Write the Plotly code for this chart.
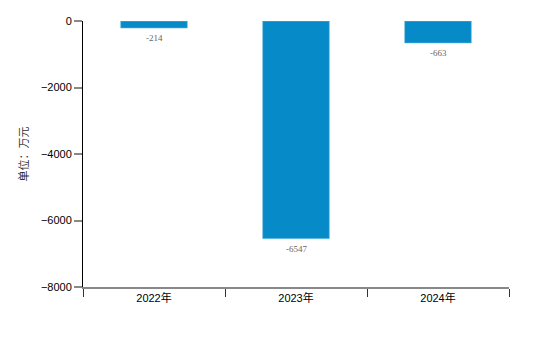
import plotly.graph_objects as go

years = ["2022年", "2023年", "2024年"]
values = [-214, -6547, -663]
y_ticks = [0, -2000, -4000, -6000, -8000]

fig = go.Figure(
    go.Bar(
        x=years,
        y=values,
        width=0.47,
        marker=dict(color="#068bc8", line=dict(color="#7cc4e6", width=0.6)),
        hoverinfo="skip",
    )
)

# value labels just below the end of each bar
for year, v in zip(years, values):
    fig.add_annotation(
        x=year, y=v,
        text=str(v),
        showarrow=False,
        yanchor="top",
        yshift=-3,
        font=dict(size=9, color="#666666", family="Liberation Serif, Noto Sans CJK SC"),
    )

fig.add_annotation(
    text="单位：万元",
    xref="paper", yref="paper",
    x=-0.142, y=0.5,
    xanchor="center", yanchor="middle",
    textangle=-90,
    showarrow=False,
    font=dict(size=11, color="#333333", family="Noto Sans CJK SC"),
)

fig.update_layout(
    width=560,
    height=346,
    margin=dict(l=83, r=51, t=21, b=59),
    paper_bgcolor="white",
    plot_bgcolor="white",
    showlegend=False,
    font=dict(family="Liberation Sans, Noto Sans CJK SC", size=11, color="#000000"),
)

fig.update_yaxes(
    range=[-8000, 0],
    tickvals=y_ticks,
    ticks="outside",
    ticklen=8,
    tickcolor="#888888",
    tickwidth=2,
    showline=True,
    linecolor="#000000",
    linewidth=1,
    showgrid=False,
    zeroline=False,
    tickfont=dict(size=11, color="#000000"),
)

fig.update_xaxes(
    type="category",
    tickson="boundaries",
    ticks="outside",
    ticklen=8,
    tickcolor="#333333",
    tickwidth=1,
    showline=True,
    linecolor="#888888",
    linewidth=2,
    showgrid=False,
    tickfont=dict(size=11, color="#000000"),
)

fig.write_html("out.html")
